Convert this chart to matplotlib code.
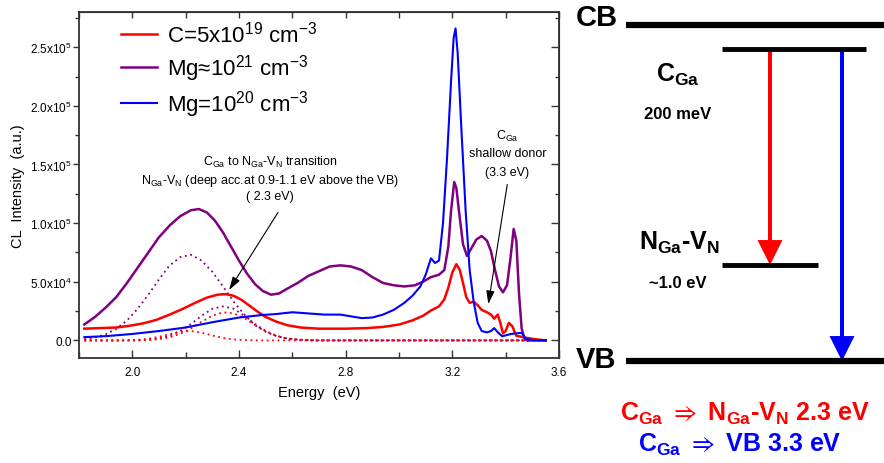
import matplotlib
matplotlib.use('Agg')
import matplotlib.pyplot as plt
from matplotlib.ticker import FixedLocator, MultipleLocator, NullFormatter

# pyplot setup
plt.rcParams['font.family'] = ['Liberation Sans', 'DejaVu Sans']
plt.rcParams['mathtext.fontset'] = 'custom'
plt.rcParams['mathtext.rm'] = 'Liberation Sans'
plt.rcParams['mathtext.it'] = 'Liberation Sans:italic'
plt.rcParams['mathtext.bf'] = 'Liberation Sans:bold'
plt.rcParams['mathtext.default'] = 'regular'

# CL spectra (energy in eV, intensity in a.u.)
E_red = [1.82, 1.88, 1.94, 1.99, 2.04, 2.09, 2.14, 2.19, 2.24, 2.28, 2.32,
         2.35, 2.38, 2.41, 2.44, 2.47, 2.50, 2.54, 2.58, 2.63, 2.70, 2.80,
         2.88, 2.94, 3.00, 3.05, 3.09, 3.12, 3.15, 3.17, 3.185, 3.20, 3.215,
         3.228, 3.24, 3.252, 3.265, 3.28, 3.295, 3.31, 3.33, 3.345, 3.357,
         3.37, 3.38, 3.39, 3.40, 3.412, 3.425, 3.44, 3.47, 3.51, 3.55]
I_red = [1.0e4, 1.05e4, 1.1e4, 1.25e4, 1.45e4, 1.75e4, 2.2e4, 2.7e4, 3.25e4,
         3.65e4, 3.9e4, 3.95e4, 3.8e4, 3.45e4, 2.95e4, 2.45e4, 2.0e4, 1.6e4,
         1.3e4, 1.1e4, 1.0e4, 1.0e4, 1.05e4, 1.15e4, 1.35e4, 1.7e4, 2.1e4,
         2.55e4, 2.9e4, 3.5e4, 4.5e4, 5.8e4, 6.5e4, 6.0e4, 4.9e4, 3.7e4,
         3.2e4, 3.3e4, 3.0e4, 2.6e4, 2.4e4, 2.2e4, 1.85e4, 2.2e4, 1.5e4, 6e3,
         8e3, 1.5e4, 1.2e4, 4e3, 2.5e3, 1e3, 0]

E_purple = [1.82, 1.86, 1.90, 1.94, 1.98, 2.02, 2.06, 2.10, 2.14, 2.18, 2.22,
            2.25, 2.28, 2.31, 2.34, 2.37, 2.40, 2.43, 2.46, 2.49, 2.52, 2.55,
            2.58, 2.62, 2.66, 2.70, 2.74, 2.78, 2.82, 2.86, 2.90, 2.94, 2.98,
            3.02, 3.06, 3.09, 3.12, 3.15, 3.17, 3.185, 3.195, 3.207, 3.215,
            3.225, 3.24, 3.255, 3.27, 3.29, 3.31, 3.33, 3.345, 3.36, 3.375,
            3.39, 3.405, 3.418, 3.43, 3.44, 3.45, 3.46, 3.47, 3.48, 3.55]
I_purple = [1.36e4, 2.0e4, 2.8e4, 3.7e4, 4.9e4, 6.2e4, 7.5e4, 8.8e4, 9.8e4,
            1.06e5, 1.11e5, 1.12e5, 1.09e5, 1.02e5, 9.2e4, 8.0e4, 6.8e4,
            5.7e4, 4.8e4, 4.2e4, 3.9e4, 4.0e4, 4.4e4, 4.9e4, 5.5e4, 5.9e4,
            6.3e4, 6.4e4, 6.3e4, 6.0e4, 5.4e4, 4.9e4, 4.7e4, 4.6e4, 4.7e4,
            5.0e4, 5.4e4, 5.6e4, 6.0e4, 8.0e4, 1.1e5, 1.35e5, 1.3e5, 1.1e5,
            8.2e4, 7.2e4, 7.8e4, 8.6e4, 8.9e4, 8.5e4, 7.6e4, 6.0e4, 4.6e4,
            4.1e4, 4.7e4, 7.0e4, 9.5e4, 8.5e4, 4.0e4, 1.0e4, 2e3, 0, 0]

E_blue = [1.82, 1.90, 2.00, 2.10, 2.20, 2.30, 2.40, 2.48, 2.54, 2.60, 2.66,
          2.72, 2.78, 2.82, 2.86, 2.90, 2.94, 2.98, 3.02, 3.05, 3.08, 3.10,
          3.12, 3.135, 3.15, 3.165, 3.18, 3.195, 3.205, 3.212, 3.22, 3.234,
          3.25, 3.265, 3.28, 3.295, 3.31, 3.33, 3.345, 3.357, 3.37, 3.387,
          3.42, 3.46, 3.475, 3.50, 3.55]
I_blue = [2.8e3, 3.6e3, 5.5e3, 8e3, 1.1e4, 1.55e4, 1.95e4, 2.15e4, 2.25e4,
          2.4e4, 2.3e4, 2.2e4, 2.2e4, 2.05e4, 1.9e4, 1.95e4, 2.2e4, 2.6e4,
          3.2e4, 3.8e4, 4.6e4, 5.6e4, 7.0e4, 6.6e4, 6.8e4, 1.0e5, 1.55e5,
          2.2e5, 2.58e5, 2.66e5, 2.45e5, 1.8e5, 1.1e5, 6.0e4, 3.3e4, 1.5e4,
          8e3, 6.8e3, 8e3, 1.05e4, 7e3, 3.5e3, 5.5e3, 6.5e3, 1.5e3, 3e2, 0]

# fitted components (dotted)
E_fit = [1.82, 1.86, 1.90, 1.94, 1.98, 2.02, 2.06, 2.10, 2.14, 2.18, 2.22, 2.26,
         2.30, 2.34, 2.38, 2.42, 2.46, 2.50, 2.54, 2.58, 2.62, 2.66, 2.70, 3.53]
fit_purple_1 = [1.1e3, 2.5e3, 5.2e3, 9.9e3, 1.7e4, 2.7e4, 3.9e4, 5.2e4, 6.4e4,
                7.1e4, 7.3e4, 6.8e4, 5.85e4, 4.6e4, 3.3e4, 2.2e4, 1.3e4, 7.3e3,
                3.7e3, 1.7e3, 700, 300, 0, 0]
fit_purple_2 = [0, 0, 0, 0, 0, 170, 580, 1.6e3, 3.9e3, 8.1e3, 1.4e4, 2.1e4,
                2.7e4, 2.9e4, 2.7e4, 2.1e4, 1.4e4, 8.1e3, 3.9e3, 1.6e3, 580,
                170, 0, 0]
fit_red_1 = [0, 0, 0, 0, 0, 0, 360, 1.05e3, 2.6e3, 5.7e3, 1.03e4, 1.6e4, 2.1e4,
             2.4e4, 2.3e4, 1.9e4, 1.3e4, 7.8e3, 3.9e3, 1.7e3, 630, 200, 0, 0]
fit_red_2 = [0, 0, 0, 0, 130, 480, 1.4e3, 3.1e3, 5.4e3, 7.5e3, 8e3, 6.6e3,
             4.2e3, 2.1e3, 840, 260, 60, 0, 0, 0, 0, 0, 0, 0]

labels = ['C=5x10$^{19}$ cm$^{-3}$', 'Mg\u224810$^{21}$ cm$^{-3}$',
          'Mg=10$^{20}$ cm$^{-3}$']
y_ticks = [0, 5e4, 1e5, 1.5e5, 2e5, 2.5e5]
y_ticklabels = ['0.0', '5.0x10$^4$', '1.0x10$^5$', '1.5x10$^5$',
                '2.0x10$^5$', '2.5x10$^5$']

# energy levels for the band diagram (eV above VB)
VB, NV, CGA, CB = 0.0, 1.0, 3.25, 3.5

RED, PURPLE, BLUE = '#ff0000', '#800080', '#0000ff'
DOT = (0, (1, 2))

fig = plt.figure(figsize=(8.84, 4.64), dpi=100)
ax = fig.add_axes([79 / 884, 1 - 359 / 464, 480 / 884, 346 / 464])

ax.plot(E_fit, fit_purple_1, color=PURPLE, lw=1.3, ls=DOT)
ax.plot(E_fit, fit_purple_2, color=PURPLE, lw=1.3, ls=DOT)
ax.plot(E_fit, fit_red_1, color=RED, lw=1.3, ls=DOT)
ax.plot(E_fit, fit_red_2, color=RED, lw=1.3, ls=DOT)
l_red, = ax.plot(E_red, I_red, color=RED, lw=1.8)
l_pur, = ax.plot(E_purple, I_purple, color=PURPLE, lw=1.8)
l_blu, = ax.plot(E_blue, I_blue, color=BLUE, lw=1.5)

ax.set_xlim(1.8, 3.6)
ax.set_ylim(-1.5e4, 2.8e5)
ax.xaxis.set_major_locator(MultipleLocator(0.4))
ax.xaxis.set_minor_locator(MultipleLocator(0.2))
ax.yaxis.set_major_locator(FixedLocator(y_ticks))
ax.set_yticklabels(y_ticklabels)
ax.yaxis.set_minor_locator(MultipleLocator(2.5e4))
ax.tick_params(axis='x', which='major', direction='in', length=6, width=1,
               labelsize=8.5, pad=6, colors='#333333', labelcolor='black')
ax.tick_params(axis='x', which='minor', direction='in', length=4, width=1,
               colors='#333333')
ax.tick_params(axis='y', which='major', direction='out', length=4, width=1,
               labelsize=8.5, pad=1, colors='#333333', labelcolor='black')
ax.tick_params(axis='y', which='minor', direction='out', length=3, width=1,
               colors='#333333')
for s in ax.spines.values():
    s.set_linewidth(1.3)
    s.set_color('#333333')

# ticks on top and right point inward
top = ax.secondary_xaxis('top')
top.xaxis.set_major_locator(MultipleLocator(0.2))
top.xaxis.set_major_formatter(NullFormatter())
top.tick_params(direction='in', length=4, width=1, colors='#333333')
right = ax.secondary_yaxis('right')
right.yaxis.set_major_locator(FixedLocator(y_ticks))
right.yaxis.set_minor_locator(MultipleLocator(2.5e4))
right.yaxis.set_major_formatter(NullFormatter())
right.tick_params(which='major', direction='in', length=6, width=1,
                  colors='#333333')
right.tick_params(which='minor', direction='in', length=3, width=1,
                  colors='#333333')

ax.set_xlabel('Energy  (eV)', fontsize=10.5, labelpad=5)
ax.set_ylabel('CL  Intensity  (a.u.)', fontsize=10.5, labelpad=4)

ax.legend([l_red, l_pur, l_blu], labels, loc='upper left',
          bbox_to_anchor=((121 - 79) / 480, 1 - 9 / 346), frameon=False,
          fontsize=16, borderpad=0, borderaxespad=0, handlelength=1.6,
          handletextpad=0.45, labelspacing=0.24)

# annotations
ax.text(2.516, 1.53e5, 'C$_{Ga}$ to N$_{Ga}$-V$_{N}$ transition', fontsize=9,
        ha='center', va='center')
ax.text(2.516, 1.37e5, 'N$_{Ga}$-V$_{N}$ (deep acc.at 0.9-1.1 eV above the VB)',
        fontsize=9, ha='center', va='center')
ax.text(2.516, 1.23e5, '( 2.3 eV)', fontsize=9, ha='center', va='center')
ax.annotate('', xy=(2.363, 4.3e4), xytext=(2.546, 1.09e5),
            arrowprops=dict(arrowstyle='-|>,head_length=0.8,head_width=0.25',
                            color='black', lw=0.8, shrinkA=0, shrinkB=0))
ax.text(3.406, 1.75e5, 'C$_{Ga}$', fontsize=9, ha='center', va='center')
ax.text(3.406, 1.60e5, 'shallow donor', fontsize=9, ha='center', va='center')
ax.text(3.406, 1.44e5, '(3.3 eV)', fontsize=9, ha='center', va='center')
ax.annotate('', xy=(3.335, 3.1e4), xytext=(3.406, 1.33e5),
            arrowprops=dict(arrowstyle='-|>,head_length=0.8,head_width=0.25',
                            color='black', lw=0.8, shrinkA=0, shrinkB=0))

# band diagram (x in figure pixels, y in eV)
dia = fig.add_axes([0, 0, 1, 1])
dia.set_xlim(0, 884)
dia.set_ylim((362 - 464) / 96, 362 / 96)
dia.axis('off')
dia.plot([626, 884], [CB, CB], color='black', lw=4.5, solid_capstyle='butt')
dia.plot([626, 884], [VB, VB], color='black', lw=4.5, solid_capstyle='butt')
dia.plot([722, 866], [CGA, CGA], color='black', lw=3.5, solid_capstyle='butt')
dia.plot([722, 818], [NV, NV], color='black', lw=3.5, solid_capstyle='butt')
dia.arrow(770, CGA, 0, NV - CGA, width=4, head_width=25, head_length=0.26,
          length_includes_head=True, color=RED, lw=0)
dia.arrow(842, CGA, 0, VB - CGA, width=4, head_width=25, head_length=0.26,
          length_includes_head=True, color=BLUE, lw=0)

dia.text(576, CB + 0.08, 'CB', fontsize=21, fontweight='bold', va='center')
dia.text(576, VB + 0.02, 'VB', fontsize=21, fontweight='bold', va='center')
dia.text(678, 2.99, r'$\mathbf{C_{Ga}}$', fontsize=18, ha='center', va='center')
dia.text(678, 2.58, '200 meV', fontsize=12, fontweight='bold', ha='center',
         va='center')
dia.text(679, 1.24, r'$\mathbf{N_{Ga}}$-$\mathbf{V_{N}}$', fontsize=18,
         fontweight='bold', ha='center', va='center')
dia.text(678, 0.82, '~1.0 eV', fontsize=12, fontweight='bold', ha='center',
         va='center')
dia.text(745, -0.54,
         r'$\mathbf{C_{Ga}}$ $\Rightarrow$ $\mathbf{N_{Ga}}$-$\mathbf{V_{N}}$ 2.3 eV',
         fontsize=18, fontweight='bold', color=RED, ha='center', va='center')
dia.text(740, -0.865, r'$\mathbf{C_{Ga}}$ $\Rightarrow$ VB 3.3 eV', fontsize=18,
         fontweight='bold', color=BLUE, ha='center', va='center')

fig.savefig('out.png', dpi=100)
